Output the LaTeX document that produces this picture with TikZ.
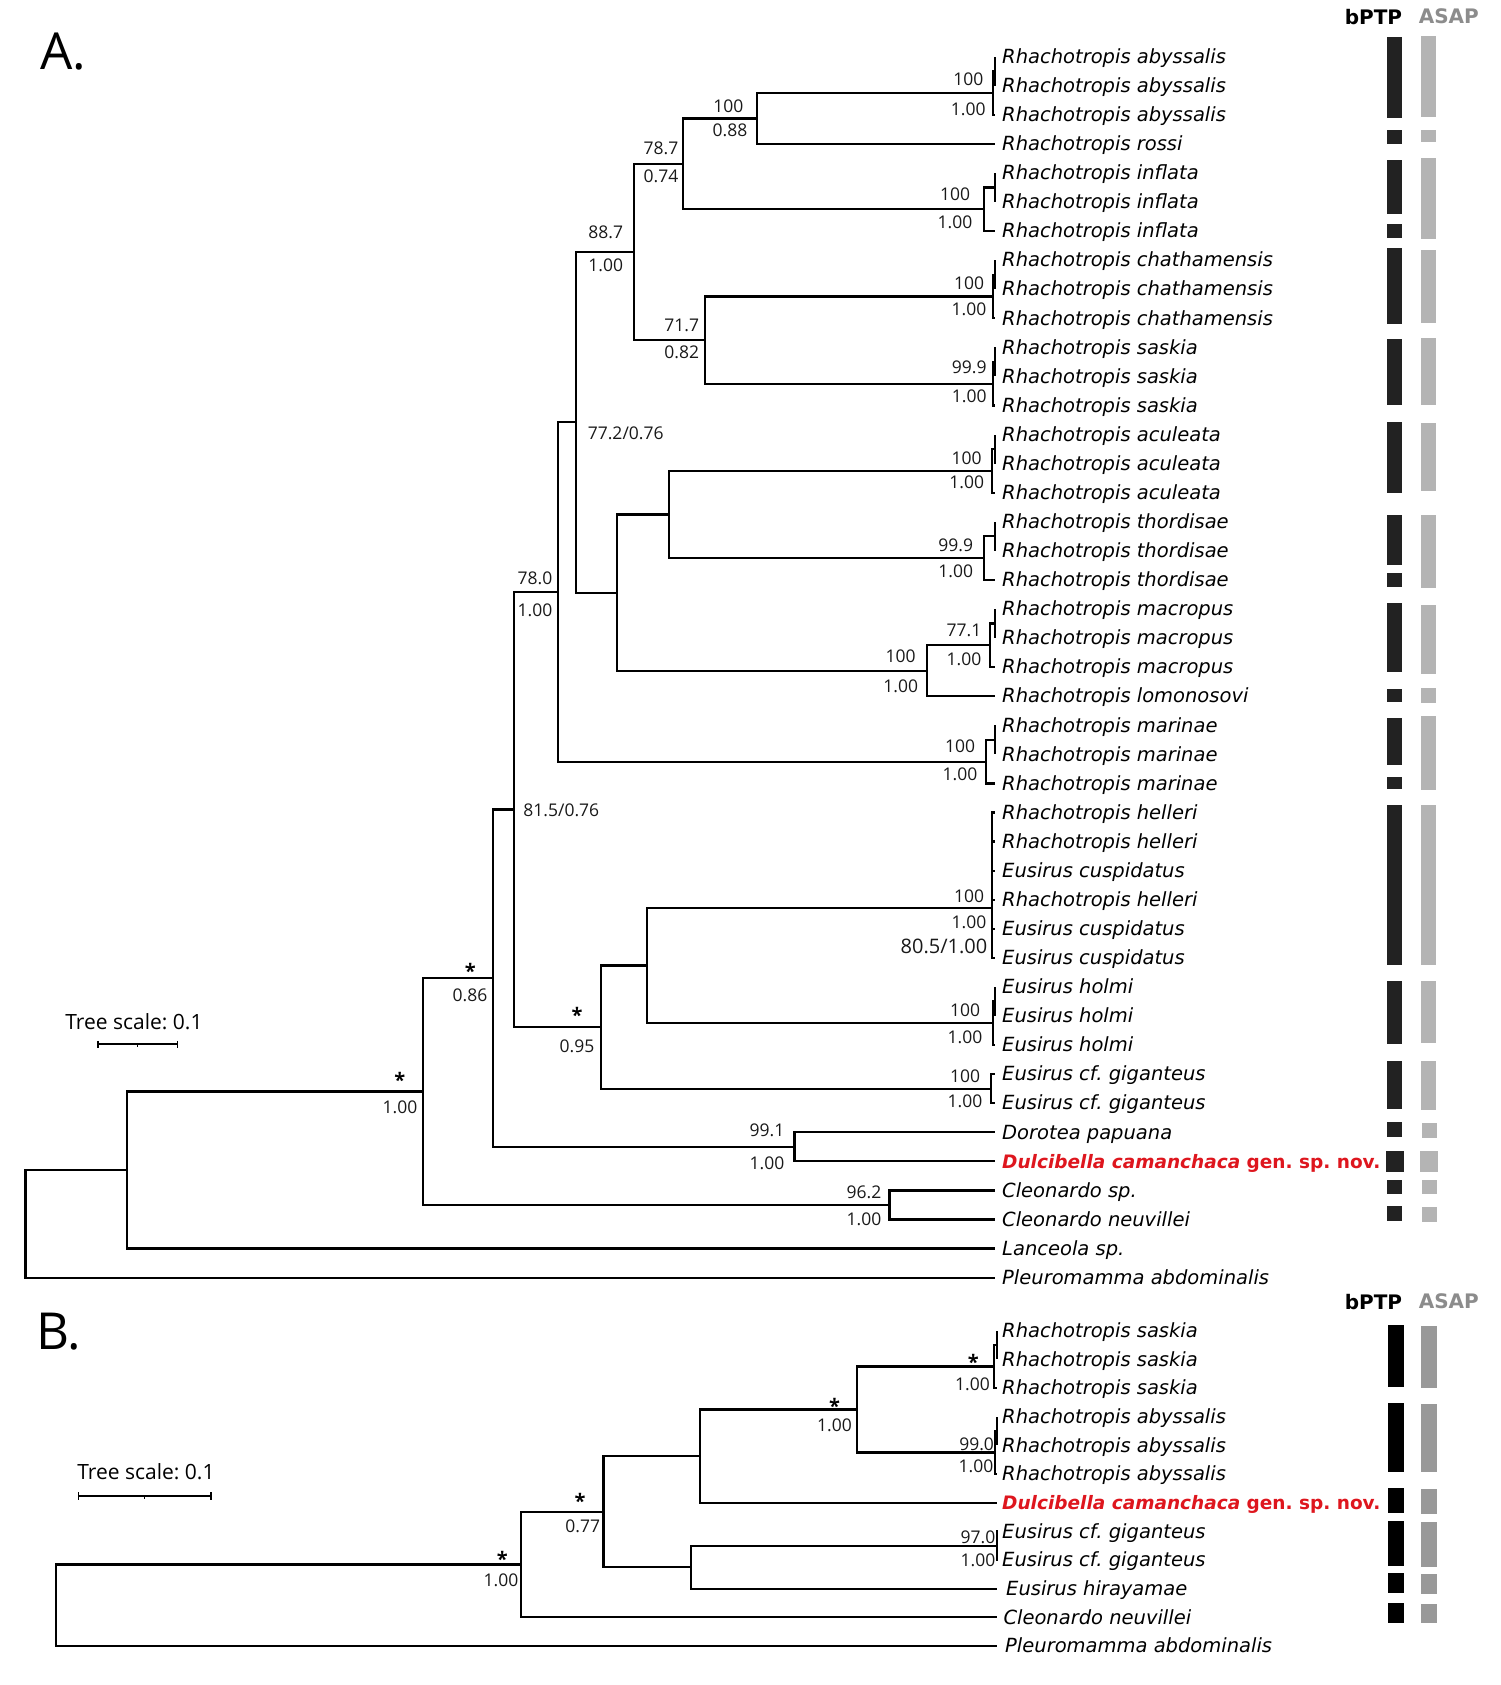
\documentclass[tikz,border=0pt]{standalone}
\usepackage{fontspec}
\setmainfont{Open Sans}
\newfontfamily\taxfont{DejaVu Sans}[ItalicFont={DejaVu Sans Oblique},BoldFont={DejaVu Sans Bold},BoldItalicFont={DejaVu Sans Bold Oblique}]
\definecolor{dred}{RGB}{222,22,30}
\definecolor{bpA}{RGB}{34,34,34}
\definecolor{asA}{RGB}{180,180,180}
\definecolor{asB}{RGB}{153,153,153}
\definecolor{hdr}{RGB}{140,140,140}
\frenchspacing
\newcommand\dulctext{\color{dred}\fontsize{18.5}{20}\selectfont\bfseries Dulcibella camanchaca \upshape gen. sp. nov.}
\begin{document}
\begin{tikzpicture}[x=1pt,y=-1pt,
  tree/.style={line width=2.2pt},
  scbar/.style={line width=1.8pt},
  tx/.style={anchor=base west, inner sep=0pt, font=\taxfont\itshape\fontsize{19.5}{22}\selectfont},
  nm/.style={inner sep=0pt, font=\fontsize{17.5}{20}\selectfont, text=black!90},
  nmbig/.style={inner sep=0pt, font=\fontsize{20}{22}\selectfont, text=black!90},
  st/.style={inner sep=0pt, font=\bfseries\fontsize{20}{22}\selectfont},
  hd/.style={inner sep=0pt, font=\taxfont\bfseries\fontsize{20}{22}\selectfont},
  big/.style={inner sep=0pt, font=\fontsize{51}{55}\selectfont},
  sc/.style={inner sep=0pt, font=\fontsize{21}{24}\selectfont},
]
\useasboundingbox (0,0) rectangle (1500,1685);

% ================= PART A =================
\node[big] (lblA) at (63.4,51.6) {A.};
\node[hd] (hA1) at (1373.4,16.6) {bPTP};
\node[hd, text=hdr] (hA2) at (1448.8,16.6) {ASAP};

\foreach \t [count=\i] in {Rhachotropis abyssalis,Rhachotropis abyssalis,Rhachotropis abyssalis,Rhachotropis rossi,Rhachotropis inflata,Rhachotropis inflata,Rhachotropis inflata,Rhachotropis chathamensis,Rhachotropis chathamensis,Rhachotropis chathamensis,Rhachotropis saskia,Rhachotropis saskia,Rhachotropis saskia,Rhachotropis aculeata,Rhachotropis aculeata,Rhachotropis aculeata,Rhachotropis thordisae,Rhachotropis thordisae,Rhachotropis thordisae,Rhachotropis macropus,Rhachotropis macropus,Rhachotropis macropus,Rhachotropis lomonosovi,Rhachotropis marinae,Rhachotropis marinae,Rhachotropis marinae,Rhachotropis helleri,Rhachotropis helleri,Eusirus cuspidatus,Rhachotropis helleri,Eusirus cuspidatus,Eusirus cuspidatus,Eusirus holmi,Eusirus holmi,Eusirus holmi,Eusirus cf. giganteus,Eusirus cf. giganteus,Dorotea papuana,\dulctext,Cleonardo sp.,Cleonardo neuvillei,Lanceola sp.,Pleuromamma abdominalis}{
  \coordinate (a\i) at (995,{56.7+(\i-1)*29.07});
  \node[tx] (ta\i) at (1002,{63.4+(\i-1)*29.07}) {\t};
}

\coordinate (aI) at (995,71.24);
\coordinate (aO) at (993,93.04);
\coordinate (r100) at (757.3,118.48);
\coordinate (iI) at (995,187.52);
\coordinate (iO) at (984.3,209.32);
\coordinate (n787) at (683.3,163.9);
\coordinate (cI) at (995,274.73);
\coordinate (cO) at (993,296.53);
\coordinate (sI) at (995,361.94);
\coordinate (sO) at (993,383.74);
\coordinate (n717) at (705.3,340.14);
\coordinate (n887) at (634,252.02);
\coordinate (acI) at (995,449.15);
\coordinate (acO) at (992,470.95);
\coordinate (thI) at (995,536.36);
\coordinate (thO) at (984,558.16);
\coordinate (nAT) at (669.3,514.56);
\coordinate (mI) at (995,623.57);
\coordinate (mO) at (990,645.37);
\coordinate (nML) at (927.3,670.8);
\coordinate (n616) at (616.7,592.68);
\coordinate (n772) at (576,422.35);
\coordinate (maI) at (995,739.85);
\coordinate (maO) at (986,761.65);
\coordinate (n780) at (558.3,592.0);
\coordinate (hO) at (992,907.7);
\coordinate (hoI) at (995,1001.48);
\coordinate (hoO) at (993,1023.28);
\coordinate (nHH) at (647,965.49);
\coordinate (gi) at (991.3,1088.69);
\coordinate (n095) at (600.8,1027.09);
\coordinate (n815) at (513.7,809.55);
\coordinate (dd) at (794.4,1146.83);
\coordinate (n086) at (493,978.19);
\coordinate (cl) at (889.5,1204.97);
\coordinate (n100s) at (423.3,1091.58);
\coordinate (nLan) at (127.3,1170.08);
\coordinate (rootA) at (25.5,1223.86);

\foreach \p/\c in {rootA/nLan,rootA/a43,nLan/n100s,nLan/a42,n100s/n086,n100s/cl,cl/a40,cl/a41,n086/n815,n086/dd,dd/a38,dd/a39,n815/n780,n815/n095,n780/n772,n780/maO,n772/n887,n772/n616,n887/n787,n887/n717,n787/r100,n787/iO,r100/aO,r100/a4,aO/aI,aO/a3,aI/a1,aI/a2,iO/iI,iO/a7,iI/a5,iI/a6,n717/cO,n717/sO,cO/cI,cO/a10,cI/a8,cI/a9,sO/sI,sO/a13,sI/a11,sI/a12,n616/nAT,n616/nML,nAT/acO,nAT/thO,acO/acI,acO/a16,acI/a14,acI/a15,thO/thI,thO/a19,thI/a17,thI/a18,nML/mO,nML/a23,mO/mI,mO/a22,mI/a20,mI/a21,maO/maI,maO/a26,maI/a24,maI/a25,n095/nHH,n095/gi,nHH/hO,nHH/hoO,hO/a27,hO/a28,hO/a29,hO/a30,hO/a31,hO/a32,hoO/hoI,hoO/a35,hoI/a33,hoI/a34,gi/a36,gi/a37}
  \draw[tree] (\p) |- (\c);

% support labels A
\node[nm] (l1) at (968.3,79.3) {100};
\node[nm] (l2) at (968.3,109) {1.00};
\node[nm] (l3) at (728.3,106.7) {100};
\node[nm] (l4) at (730,130) {0.88};
\node[nm] (l5) at (661,148.3) {78.7};
\node[nm] (l6) at (661,176.7) {0.74};
\node[nm] (l7) at (605.7,232.3) {88.7};
\node[nm] (l8) at (605.7,265) {1.00};
\node[nm] (l9) at (955,194) {100};
\node[nm] (l10) at (955,222.3) {1.00};
\node[nm] (l11) at (969,283.3) {100};
\node[nm] (l12) at (969,309.3) {1.00};
\node[nm] (l13) at (681.7,325.7) {71.7};
\node[nm] (l14) at (681.7,352.3) {0.82};
\node[nm] (l15) at (969.3,367.7) {99.9};
\node[nm] (l16) at (969.3,396.7) {1.00};
\node[nm] (l17) at (625.7,433.3) {77.2/0.76};
\node[nm] (l18) at (966.7,458.3) {100};
\node[nm] (l19) at (966.7,482.7) {1.00};
\node[nm] (l20) at (955.7,545) {99.9};
\node[nm] (l21) at (955.7,571.7) {1.00};
\node[nm] (l22) at (964,630) {77.1};
\node[nm] (l23) at (964,659.3) {1.00};
\node[nm] (l24) at (900.7,656.7) {100};
\node[nm] (l25) at (900.7,686) {1.00};
\node[nm] (l26) at (960,746.7) {100};
\node[nm] (l27) at (960,774.3) {1.00};
\node[nm] (l28) at (535,578) {78.0};
\node[nm] (l29) at (535,610) {1.00};
\node[nm] (l30) at (561.3,810.7) {81.5/0.76};
\node[nm] (l31) at (969,896.7) {100};
\node[nm] (l32) at (969,922.7) {1.00};
\node[nmbig] (l33) at (944,946.7) {80.5/1.00};
\node[st] (l34) at (577,1014.7) {*};
\node[nm] (l35) at (577,1046.7) {0.95};
\node[nm] (l36) at (965,1010) {100};
\node[nm] (l37) at (965,1037.7) {1.00};
\node[nm] (l38) at (965,1076) {100};
\node[nm] (l39) at (965,1101.7) {1.00};
\node[st] (l40) at (470.2,970.7) {*};
\node[nm] (l41) at (470,995) {0.86};
\node[st] (l42) at (399.9,1080) {*};
\node[nm] (l43) at (400,1107.3) {1.00};
\node[nm] (l44) at (767,1130) {99.1};
\node[nm] (l45) at (767,1163.3) {1.00};
\node[nm] (l46) at (864,1192.7) {96.2};
\node[nm] (l47) at (864,1219.3) {1.00};

% tree scale A
\node[sc] (tsA) at (134,1021.7) {Tree scale: 0.1};
\coordinate (sa1) at (97.8,1044.3);
\coordinate (sa2) at (177.5,1044.3);
\coordinate (sam) at (137.6,1044.3);
\draw[scbar] (sa1) -- (sa2);
\draw[scbar] ([yshift=3.5pt]sa1) -- ([yshift=-3.5pt]sa1);
\draw[scbar] ([yshift=3.5pt]sa2) -- ([yshift=-3.5pt]sa2);
\draw[line width=0.8pt] (sam) -- ([yshift=-2.5pt]sam);

% bars A
\foreach \ya/\yb in {37.3/118.3,129.9/143.6,159.8/214.5,223.7/237.8,248.5/323.7,338.6/405.4,422.4/493,515.4/565.1,573.4/586.7,602.9/672,689.4/702.3,717.6/765,777/789,805.2/965.4,980.7/1044.2,1060.8/1108.5,1121.8/1136.7,1179.9/1194.4,1206/1220.5}
  \fill[bpA] (1387.3,\ya) rectangle (1402.3,\yb);
\fill[bpA] (1386,1150.8) rectangle (1404,1172);
\foreach \ya/\yb in {36.1/117,129.9/142.3,158.1/239.4,250.2/322.8,337.8/405.4,423.2/490.9,515/588.4,604.6/673.7,688.2/702.7,716.4/789.8,805.2/965.4,980.7/1043,1060.8/1109.8}
  \fill[asA] (1420.7,\ya) rectangle (1435.7,\yb);
\fill[asA] (1421.7,1123) rectangle (1436.7,1137.6);
\fill[asA] (1420,1151.2) rectangle (1438,1172);
\fill[asA] (1422.3,1180.3) rectangle (1437.3,1194.4);
\fill[asA] (1421.7,1207.3) rectangle (1436.7,1221.8);

% ================= PART B =================
\node[big] (lblB) at (59,1332) {B.};
\node[hd] (hB1) at (1373.4,1301.7) {bPTP};
\node[hd, text=hdr] (hB2) at (1448.8,1301.7) {ASAP};

\foreach \t/\xx [count=\i] in {Rhachotropis saskia/1002,Rhachotropis saskia/1002,Rhachotropis saskia/1002,Rhachotropis abyssalis/1002,Rhachotropis abyssalis/1002,Rhachotropis abyssalis/1002,\dulctext/1002,Eusirus cf. giganteus/1002,Eusirus cf. giganteus/1002,Eusirus hirayamae/1006,Cleonardo neuvillei/1003.3,Pleuromamma abdominalis/1005}{
  \coordinate (b\i) at (997,{1330.7+(\i-1)*28.66});
  \node[tx] (tb\i) at (\xx,{1337.4+(\i-1)*28.66}) {\t};
}

\coordinate (bsI) at (997,1345.03);
\coordinate (bsO) at (994,1366.5);
\coordinate (baI) at (997,1431.01);
\coordinate (baO) at (995,1452.5);
\coordinate (bN1) at (856.7,1409.5);
\coordinate (bN2) at (700,1456.08);
\coordinate (bG) at (996.7,1545.65);
\coordinate (bN3) at (691.2,1567.15);
\coordinate (bN077) at (603.5,1511.6);
\coordinate (bN100) at (521.1,1564.45);
\coordinate (rootB) at (56.3,1605.2);

\foreach \p/\c in {rootB/bN100,rootB/b12,bN100/bN077,bN100/b11,bN077/bN2,bN077/bN3,bN2/bN1,bN2/b7,bN1/bsO,bN1/baO,bsO/bsI,bsO/b3,bsI/b1,bsI/b2,baO/baI,baO/b6,baI/b4,baI/b5,bN3/bG,bN3/b10,bG/b8,bG/b9}
  \draw[tree] (\p) |- (\c);

\node[st] (m1) at (973.2,1362.3) {*};
\node[nm] (m2) at (972.5,1384) {1.00};
\node[st] (m3) at (834.5,1405.7) {*};
\node[nm] (m4) at (834.5,1425) {1.00};
\node[nm] (m5) at (976.6,1444) {99.0};
\node[nm] (m6) at (976,1466.7) {1.00};
\node[st] (m7) at (580,1500.7) {*};
\node[nm] (m8) at (582.7,1526) {0.77};
\node[nm] (m9) at (977.9,1537.3) {97.0};
\node[nm] (m10) at (978,1560.7) {1.00};
\node[st] (m11) at (502.3,1559) {*};
\node[nm] (m12) at (501,1580.7) {1.00};

% tree scale B
\node[sc] (tsB) at (146,1471.7) {Tree scale: 0.1};
\coordinate (sb1) at (78.4,1496);
\coordinate (sb2) at (211,1496);
\coordinate (sbm) at (144.7,1496);
\draw[scbar] (sb1) -- (sb2);
\draw[scbar] ([yshift=4pt]sb1) -- ([yshift=-4pt]sb1);
\draw[scbar] ([yshift=4pt]sb2) -- ([yshift=-4pt]sb2);
\draw[line width=0.8pt] (sbm) -- ([yshift=-2.5pt]sbm);

% bars B
\foreach \ya/\yb in {1325/1387.3,1403.3/1471.7,1487.7/1512.7,1521/1566,1573.3/1593.3,1603.3/1622.7}
  \fill[black] (1387.7,\ya) rectangle (1404,\yb);
\foreach \ya/\yb in {1326/1388.3,1404/1472.3,1489/1514.3,1522.3/1566.7,1574.3/1594,1604/1623.3}
  \fill[asB] (1420.7,\ya) rectangle (1436.7,\yb);
\end{tikzpicture}
\end{document}
